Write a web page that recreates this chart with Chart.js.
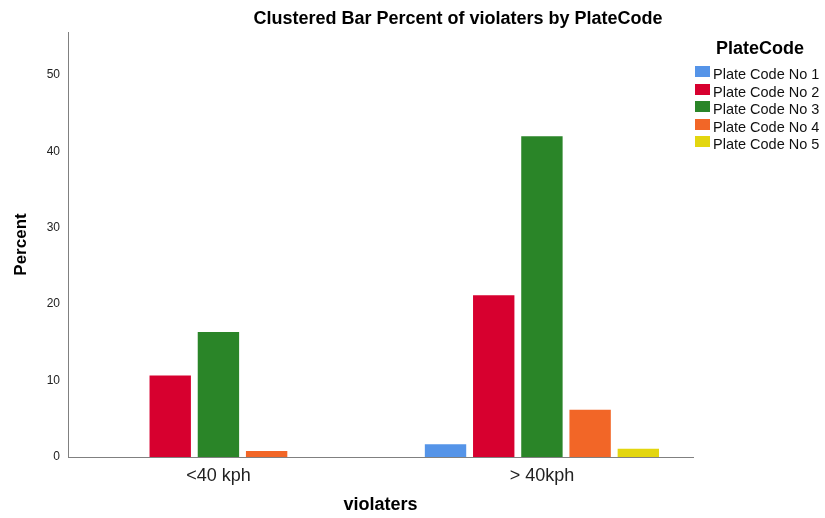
<!DOCTYPE html>
<html lang="en">
<head>
    <meta charset="UTF-8">
    <meta name="viewport" content="width=device-width, initial-scale=1.0">
    <script src="https://cdn.jsdelivr.net/npm/chart.js@4.4.1/dist/chart.umd.min.js"></script>
    <title>Clustered Bar Percent of violaters by PlateCode</title>
    <style>
        body { margin: 0; background: #fff; }
        #wrap { position: relative; width: 825px; height: 518px; font-family: "Liberation Sans", Arial, sans-serif; color: #000; }
        #chart { position: absolute; left: 0; top: 0; }
        #title { position: absolute; left: 458px; top: 8px; transform: translateX(-50%); font-size: 18px; font-weight: bold; line-height: 20px; white-space: nowrap; }
        #legendTitle { position: absolute; left: 760px; top: 38px; transform: translateX(-50%); font-size: 18px; font-weight: bold; line-height: 20px; }
        .box { position: absolute; left: 695px; width: 15px; height: 11px; }
        .lbl { position: absolute; left: 713px; font-size: 14.5px; line-height: 18px; white-space: nowrap; color: #111; }
    </style>
</head>
<body>
    <div id="wrap">
        <canvas id="chart" width="825" height="518"></canvas>
        <div id="title">Clustered Bar Percent of violaters by PlateCode</div>
        <div id="legendTitle">PlateCode</div>
        <div id="legend"></div>
    </div>

    <script>
        // values (percent), null = no bar drawn
        const categories = ['<40 kph', '> 40kph'];
        const seriesNames = ['Plate Code No 1', 'Plate Code No 2', 'Plate Code No 3', 'Plate Code No 4', 'Plate Code No 5'];
        const plate1 = [null, 1.8];
        const plate2 = [10.8, 21.3];
        const plate3 = [16.5, 42.1];
        const plate4 = [0.9, 6.3];
        const plate5 = [null, 1.2];
        const yTickStep = 10;   // ticks 0,10,...,50
        const yMax = 55.6;      // top of the axis line

        const colors = ['#5594e8', '#d7002f', '#2a8528', '#f26627', '#e3d60f'];
        const allSeries = [plate1, plate2, plate3, plate4, plate5];

        // legend next to the chart, built from the same names / colours
        const legend = document.getElementById('legend');
        seriesNames.forEach((name, i) => {
            const box = document.createElement('div');
            box.className = 'box';
            box.style.top = (66 + i * 17.5) + 'px';
            box.style.background = colors[i];
            legend.appendChild(box);
            const lbl = document.createElement('div');
            lbl.className = 'lbl';
            lbl.style.top = (65 + i * 17.5) + 'px';
            lbl.textContent = name;
            legend.appendChild(lbl);
        });

        const ctx = document.getElementById('chart').getContext('2d');
        const myChart = new Chart(ctx, {
            type: 'bar',
            data: {
                labels: categories,
                datasets: allSeries.map((vals, i) => ({
                    label: seriesNames[i],
                    data: vals,
                    backgroundColor: colors[i],
                    borderColor: 'rgba(255, 255, 255, 0.3)',
                    borderWidth: 1,
                    categoryPercentage: 0.745,
                    barPercentage: 0.9
                }))
            },
            options: {
                responsive: false,
                animation: false,
                layout: { padding: { top: 32, right: 132, left: 0, bottom: 0 } },
                plugins: {
                    legend: { display: false },
                    title: { display: false },
                    tooltip: { enabled: false }
                },
                scales: {
                    x: {
                        grid: { display: false, drawTicks: false },
                        border: { display: true, color: '#808080', width: 1 },
                        ticks: {
                            color: '#222',
                            padding: 8,
                            font: { family: 'Liberation Sans', size: 18 }
                        },
                        title: {
                            display: true,
                            text: 'violaters',
                            color: '#000',
                            padding: { top: 0, bottom: 2 },
                            font: { family: 'Liberation Sans', size: 18, weight: 'bold' }
                        },
                        afterFit: function(scale) {
                            scale.height = 61;
                            // the two clusters sit a bit further apart than an even split
                            // (outer margins are smaller than half the spacing)
                            scale._startValue = -0.465;
                            scale._valueRange = 1.932;
                        }
                    },
                    y: {
                        min: 0,
                        max: yMax,
                        grid: { display: false, drawTicks: false },
                        border: { display: true, color: '#808080', width: 1 },
                        ticks: {
                            stepSize: yTickStep,
                            includeBounds: false,
                            color: '#222',
                            padding: 8,
                            font: { family: 'Liberation Sans', size: 12 }
                        },
                        title: {
                            display: true,
                            text: 'Percent',
                            color: '#000',
                            padding: { top: 11, bottom: 0 },
                            font: { family: 'Liberation Sans', size: 17, weight: 'bold' }
                        },
                        afterFit: function(scale) { scale.width = 68; }
                    }
                }
            }
        });
    </script>
</body>
</html>
